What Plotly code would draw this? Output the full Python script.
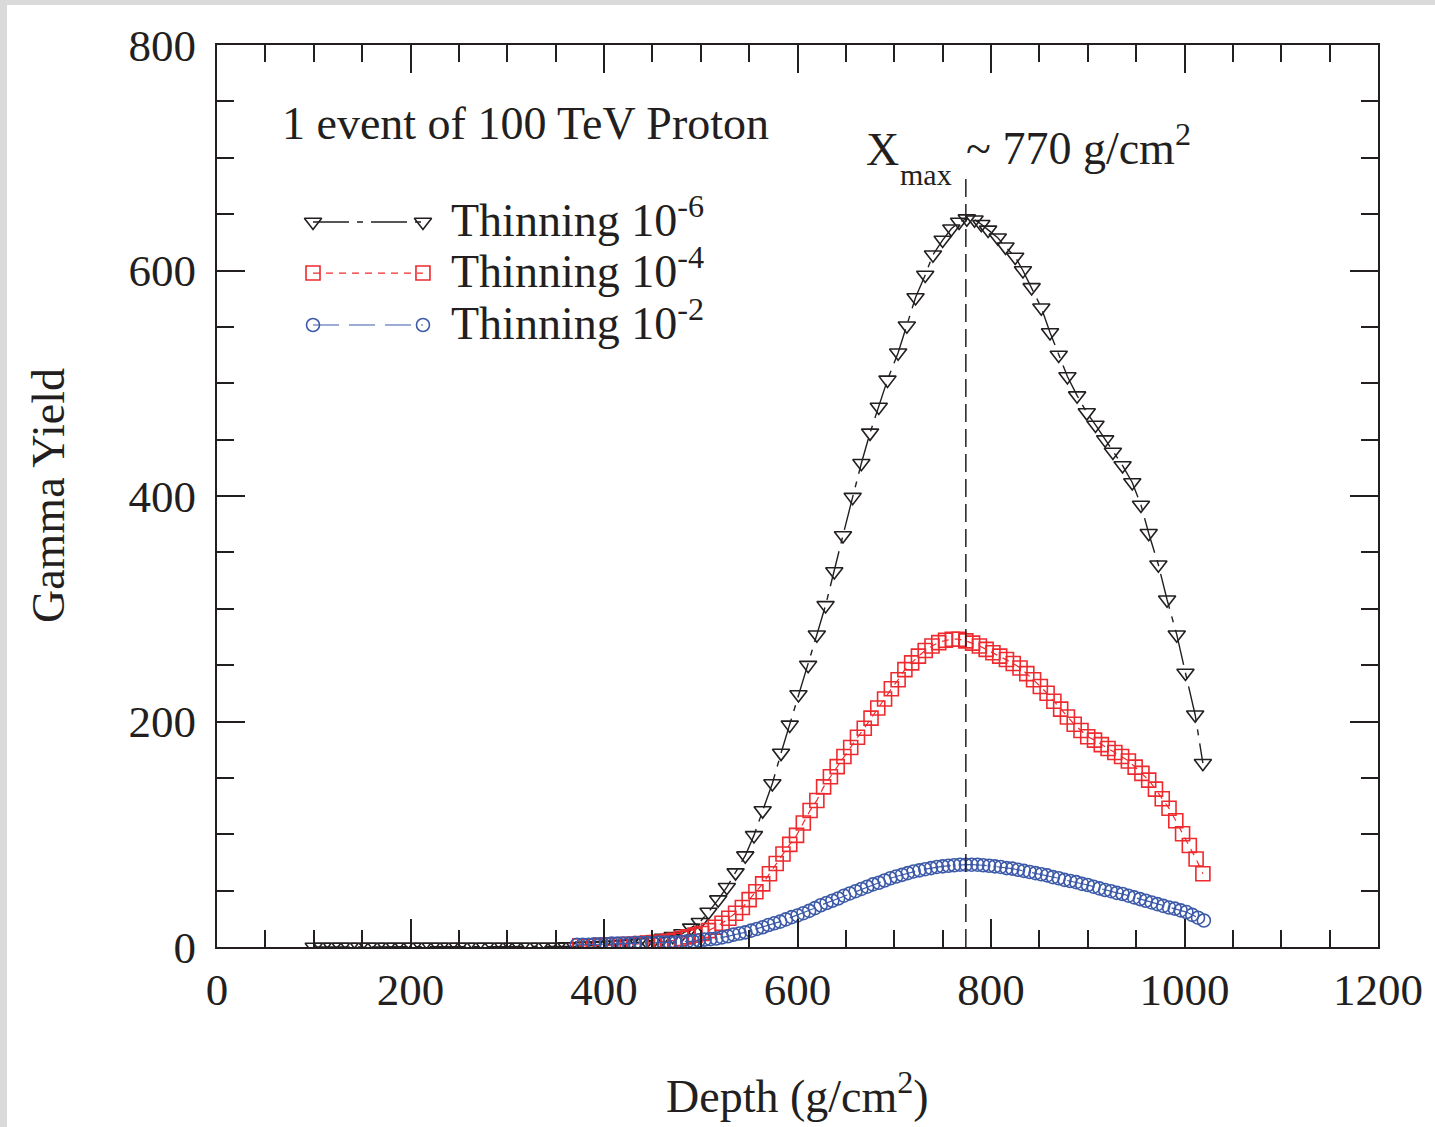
import plotly.graph_objects as go

# ---------------- data ----------------
black_depth = [100, 109, 119, 128, 137, 147, 156, 165, 175, 184, 193, 202, 212, 221, 230,
               240, 249, 258, 268, 277, 286, 296, 305, 314, 323, 333, 342, 351, 361, 370,
               379, 389, 398, 407, 417, 426, 435, 444, 452, 461, 471, 481, 490, 499, 508,
               518, 527, 536, 546, 555, 564, 574, 583, 592, 601, 611, 620, 629, 638, 647,
               657, 666, 675, 684, 693, 704, 713, 722, 732, 740, 750, 759, 767, 775, 783,
               790, 797, 807, 815, 825, 833, 842, 852, 861, 870, 879, 889, 899, 908, 918,
               926, 936, 946, 955, 963, 973, 982, 992, 1001, 1011, 1019]
black_yield = [0, 0, 0, 0, 0, 0, 0, 0, 0, 0, 0, 0, 0, 0, 0,
               0, 0, 0, 0, 0, 0, 0, 0, 0, 0, 0, 0, 0, 0.5, 0.5,
               1, 1, 1.5, 2, 2.5, 3, 4, 5, 6.5, 8, 9.5, 12, 17, 22, 31,
               42, 53, 66, 81, 99, 121, 145, 172, 197, 224, 250, 277, 303, 333, 365,
               399, 429, 456, 479, 503, 527, 551, 576, 596, 614, 627, 637, 643, 646, 645,
               641, 636, 629, 621, 612, 600, 585, 567, 545, 525, 506, 489, 474, 463, 450,
               439, 427, 412, 392, 367, 339, 308, 277, 243, 206, 163]

red_depth = [375, 382, 389, 396, 403, 410, 417, 424, 431, 438, 445, 452, 459, 466, 473,
             480, 487, 494, 501, 508, 515, 522, 529, 536, 543, 550, 557, 564, 571, 578,
             585, 592, 599, 606, 613, 620, 627, 634, 641, 648, 655, 662, 669, 676, 683,
             690, 697, 704, 711, 718, 725, 732, 739, 746, 753, 760, 767, 774, 781, 788,
             795, 802, 809, 816, 823, 830, 837, 844, 851, 858, 865, 872, 879, 886, 893,
             900, 907, 914, 921, 928, 935, 942, 949, 956, 963, 970, 977, 984, 991, 998,
             1005, 1012, 1019]
red_yield = [1, 1, 1, 1.5, 1.5, 2, 2, 2.5, 2.5, 3, 3.5, 4, 4.5, 5, 6,
             7.5, 9, 10.5, 12, 14.5, 17.5, 21, 25.5, 30, 35, 42, 49, 56, 65, 74,
             82.5, 91, 99, 110, 121, 130, 142, 151, 160, 169, 177, 186, 194, 203, 212,
             220, 229, 237, 246, 252, 258, 263, 267, 270, 272, 273, 273, 271.5, 269.5, 267,
             264, 261, 258, 255, 251.5, 247.5, 242.5, 237, 231, 225, 218, 211, 204, 197.5, 192,
             186.5, 183.5, 179.5, 176, 172.5, 169, 165, 159.5, 154, 148, 140, 131.5, 123, 112, 100.5,
             90, 78, 65]

blue_depth = [372, 378, 384, 390, 396, 402, 408, 414, 420, 426, 432, 438, 444, 450, 456,
              462, 468, 474, 480, 486, 492, 498, 504, 510, 516, 522, 528, 534, 540, 546,
              552, 558, 564, 570, 576, 582, 588, 594, 600, 606, 612, 618, 624, 630, 636,
              642, 648, 654, 660, 666, 672, 678, 684, 690, 696, 702, 708, 714, 720, 726,
              732, 738, 744, 750, 756, 762, 768, 774, 780, 786, 792, 798, 804, 810, 816,
              822, 828, 834, 840, 846, 852, 858, 864, 870, 876, 882, 888, 894, 900, 906,
              912, 918, 924, 930, 936, 942, 948, 954, 960, 966, 972, 978, 984, 990, 996,
              1002, 1008, 1014, 1020]
blue_yield = [2, 2, 2, 2.5, 2.5, 2.5, 3, 3, 3, 3, 3.5, 3.5, 3.5, 3.5, 4,
              4, 4, 4, 4.5, 5, 5, 6, 6.5, 7, 7.5, 8.5, 9.5, 11, 12, 13,
              14.5, 16, 17.5, 19.5, 21, 22.5, 24.5, 26.5, 28, 30, 32, 34.5, 37, 39, 41,
              43, 45.5, 47.5, 49.5, 51.5, 53.5, 55.5, 57, 59, 61, 62.5, 64, 65.5, 67, 68,
              69, 70, 71, 71.5, 72, 72.5, 73, 73, 73, 73, 72.5, 72, 71.5, 71, 70,
              69.5, 68.5, 67.5, 66.5, 65.5, 64.5, 63.5, 62, 61, 59.5, 58.5, 57.5, 56, 55, 53.5,
              52, 50.5, 49.5, 48, 47, 45.5, 44, 42.5, 41, 39.5, 38, 36.5, 35, 34, 32.5,
              31, 28.5, 26, 23.5]

series_names = ["Thinning 10<sup>-6</sup>", "Thinning 10<sup>-4</sup>", "Thinning 10<sup>-2</sup>"]
x_ticks = [0, 200, 400, 600, 800, 1000, 1200]
y_ticks = [0, 200, 400, 600, 800]
XMAX_LINE = 774
XMAX_LINE_TOP = 682

# ---------------- styles ----------------
INK = "#231f20"
RED = "#ee2a2e"
BLUE = "#3c5aa8"
FONT = "Liberation Serif"

styles = [
    dict(color=INK, dash="36px,8px,6px,8px", symbol="triangle-down-open", size=15, lw=1.4),
    dict(color=RED, dash="7px,6px", symbol="square-open", size=14, lw=1.2),
    dict(color=BLUE, dash="26px,10px", symbol="circle-open", size=13, lw=1.2),
]
data = [(black_depth, black_yield), (red_depth, red_yield), (blue_depth, blue_yield)]

fig = go.Figure()
for (xs, ys), st, name in zip(data, styles, series_names):
    fig.add_trace(go.Scatter(
        x=xs, y=ys, mode="lines+markers", name=name, showlegend=False,
        line=dict(color=st["color"], width=st["lw"], dash=st["dash"]),
        marker=dict(symbol=st["symbol"], size=st["size"], color=st["color"],
                    line=dict(color=st["color"], width=1.6)),
    ))

# hand-made legend on an overlay axis spanning the plot area (0..1)
leg_x = [0.0827, 0.1774]
leg_rows = [0.8038, 0.7472, 0.6896]
for st, ry, name in zip(styles, leg_rows, series_names):
    fig.add_trace(go.Scatter(
        x=leg_x, y=[ry, ry], xaxis="x2", yaxis="y2", mode="lines+markers", showlegend=False,
        line=dict(color=st["color"], width=st["lw"], dash=st["dash"]),
        marker=dict(symbol=st["symbol"], size=st["size"], color=st["color"],
                    line=dict(color=st["color"], width=1.6)),
        hoverinfo="skip",
    ))

annotations = []
for ry, name in zip(leg_rows, series_names):
    annotations.append(dict(x=0.2, y=ry + 0.006, xref="paper", yref="paper", text=name,
                            showarrow=False, xanchor="left", yanchor="middle",
                            font=dict(family=FONT, size=46, color=INK)))
annotations += [
    dict(x=0.0543, y=0.9135, xref="paper", yref="paper", text="1 event of 100 TeV Proton",
         showarrow=False, xanchor="left", yanchor="middle",
         font=dict(family=FONT, size=46, color=INK)),
    dict(x=0.5575, y=0.8836, xref="paper", yref="paper", text="X",
         showarrow=False, xanchor="left", yanchor="middle",
         font=dict(family=FONT, size=46, color=INK)),
    dict(x=0.5865, y=0.8559, xref="paper", yref="paper", text="max",
         showarrow=False, xanchor="left", yanchor="middle",
         font=dict(family=FONT, size=30, color=INK)),
    dict(x=0.6435, y=0.889, xref="paper", yref="paper", text="~ 770 g/cm<sup>2</sup>",
         showarrow=False, xanchor="left", yanchor="middle",
         font=dict(family=FONT, size=46, color=INK)),
    dict(x=0.5, y=-0.162, xref="paper", yref="paper", text="Depth (g/cm<sup>2</sup>)",
         showarrow=False, xanchor="center", yanchor="middle",
         font=dict(family=FONT, size=46, color=INK)),
    dict(x=-0.1456, y=0.501, xref="paper", yref="paper", text="Gamma Yield", textangle=-90,
         showarrow=False, xanchor="center", yanchor="middle",
         font=dict(family=FONT, size=46, color=INK)),
]

shapes = [
    # page: grey edge at top/left, white sheet
    dict(type="rect", xref="paper", yref="paper", x0=-0.1809, x1=1.06, y0=-0.21, y1=1.0443,
         fillcolor="white", line=dict(width=0), layer="below"),
    dict(type="line", xref="x", yref="y", x0=XMAX_LINE, x1=XMAX_LINE, y0=0, y1=XMAX_LINE_TOP,
         line=dict(color=INK, width=1.5, dash="18px,7px")),
]

axis_common = dict(
    showline=True, linewidth=2.2, linecolor=INK, mirror="allticks",
    ticks="inside", ticklen=28, tickwidth=2, tickcolor=INK,
    showgrid=False, zeroline=False,
    tickfont=dict(family=FONT, size=45, color=INK),
    minor=dict(ticks="inside", ticklen=17, tickwidth=2, tickcolor=INK, dtick=50, tick0=0,
               showgrid=False),
)

fig.update_layout(
    width=1435, height=1127,
    margin=dict(l=217, r=57, t=45, b=180, pad=0),
    paper_bgcolor="#dadada", plot_bgcolor="white",
    xaxis=dict(range=[0, 1200], tickmode="array", tickvals=x_ticks, ticklabelstandoff=2,
               **axis_common),
    yaxis=dict(range=[0, 800], tickmode="array", tickvals=y_ticks, ticklabelstandoff=10,
               **axis_common),
    xaxis2=dict(range=[0, 1], overlaying="x", visible=False, fixedrange=True),
    yaxis2=dict(range=[0, 1], overlaying="y", visible=False, fixedrange=True),
    annotations=annotations, shapes=shapes,
    showlegend=False,
)

fig.write_html("out.html")
